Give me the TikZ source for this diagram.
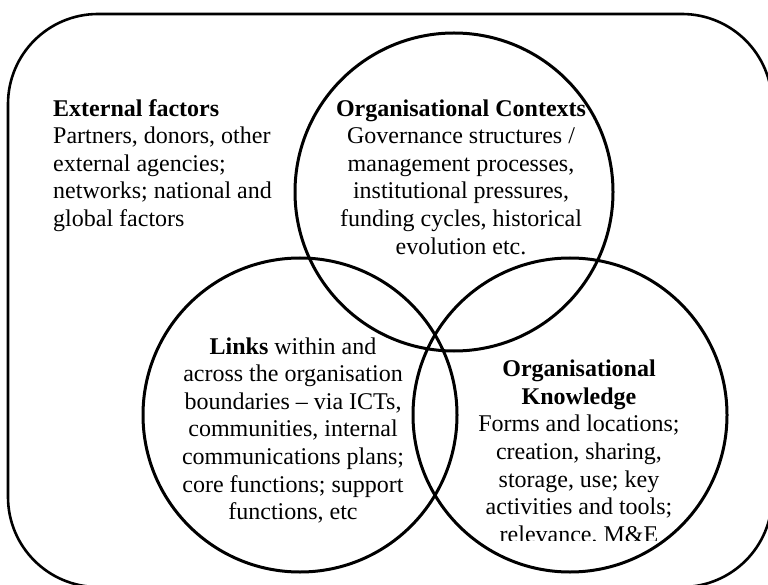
\documentclass[tikz,border=0pt]{standalone}
\usepackage{fontspec}
\setmainfont{Liberation Serif}

\begin{document}
\begin{tikzpicture}[x=1pt,y=-1pt,
          ring/.style={draw,circle,line width=3pt,minimum size=#1,inner sep=0pt},
          blurb/.style={inner sep=0pt,font=\fontsize{24}{27.6}\selectfont}]
          \useasboundingbox (0,0) rectangle (768,585);
          \clip (0,0) rectangle (768,585);
          \draw[line width=2.6pt,rounded corners=90pt] (8,14) rectangle (772,587);
          \node[ring=318pt] (contexts) at (454,192) {};
          \node[ring=314pt] (links) at (300,415) {};
          \node[ring=314pt] (knowledge) at (570,415) {};
          \node[blurb,anchor=north west,align=left] (externaltext) at (53,96.6)
            {\strut\textbf{External factors}\\Partners, donors, other\\external agencies;\\networks; national and\\global factors};
          \node[blurb,anchor=north,align=center] (contextstext) at (461,96.6)
            {\strut\textbf{Organisational Contexts}\\Governance structures /\\management processes,\\institutional pressures,\\funding cycles, historical\\evolution etc.};
          \node[blurb,anchor=north,align=center] (linkstext) at (293,334.6)
            {\strut\textbf{Links} within and\\across the organisation\\boundaries -- via ICTs,\\communities, internal\\communications plans;\\core functions; support\\functions, etc};
          \begin{scope}
            \clip (400,300) rectangle (768,540.5);
            \node[blurb,anchor=north,align=center] (knowledgetext) at (579,357.2)
              {\strut\textbf{Organisational}\\\textbf{Knowledge}\\Forms and locations;\\creation, sharing,\\storage, use; key\\activities and tools;\\relevance, M\&E};
          \end{scope}
        \end{tikzpicture}
\end{document}
